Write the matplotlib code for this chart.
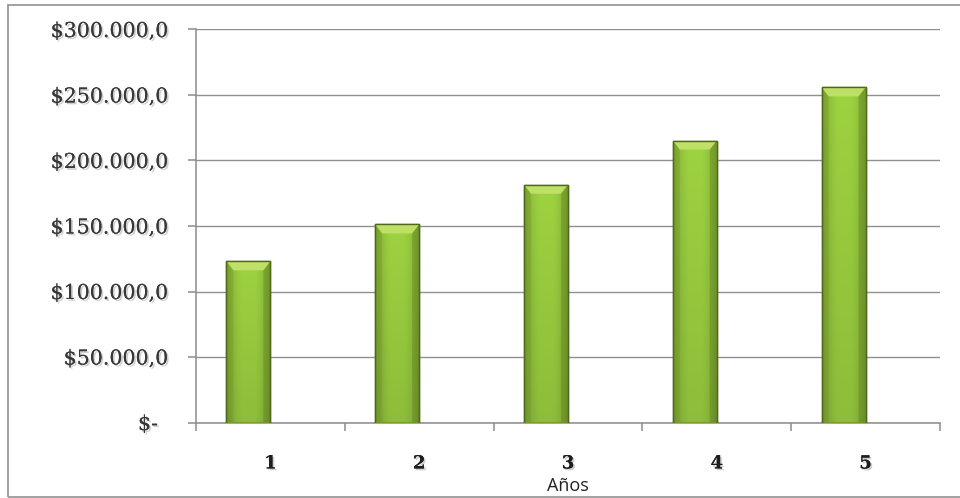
import numpy as np
import matplotlib
matplotlib.use("Agg")
import matplotlib.pyplot as plt
from matplotlib.patches import Rectangle, Polygon
import matplotlib.patheffects as pe

# Data
anios = [1, 2, 3, 4, 5]
valores = [123000, 151200, 181500, 215200, 255800]
y_ticks = [0, 50000, 100000, 150000, 200000, 250000, 300000]
x_label = "Años"


def fmt_money(v):
    if v == 0:
        return "$-\u2002"
    entero = f"{int(v):,}".replace(",", ".")
    return f"${entero},0"


W, H = 960, 498
fig = plt.figure(figsize=(W / 100, H / 100), dpi=100)
fig.patch.set_facecolor("white")

# Outer chart frame
frame = Rectangle((8 / W, 1 - 497 / H), 1.2, (497 - 5) / H, transform=fig.transFigure,
                  fill=False, edgecolor="#9a9a9a", linewidth=1.3, zorder=0)
fig.add_artist(frame)

ax = fig.add_axes([196 / W, 1 - 422.5 / H, 744 / W, (422.5 - 29.5) / H])
ax.set_facecolor("none")

ax.set_xlim(0.5, 5.5)
ax.set_ylim(0, 300000)

# Gridlines
ax.set_yticks(y_ticks)
ax.yaxis.grid(True, color="#909090", linewidth=1.0)
ax.set_axisbelow(True)

for s in ["top", "right"]:
    ax.spines[s].set_visible(False)
for s in ["left", "bottom"]:
    ax.spines[s].set_color("#8c8c8c")
    ax.spines[s].set_linewidth(1.1)

shadow = [pe.withSimplePatchShadow(offset=(1.3, -1.3), shadow_rgbFace="#a0a0a0", alpha=0.5),
          pe.Normal()]

ax.set_yticklabels([fmt_money(v) for v in y_ticks], family="DejaVu Serif",
                   fontsize=14.8, color="#383838")
for t in ax.get_yticklabels():
    t.set_path_effects(shadow)
ax.tick_params(axis="y", length=6, width=1.1, color="#8c8c8c", pad=14)

# Category labels centred, tick marks at category boundaries
ax.set_xticks(anios)
ax.set_xticklabels([str(a) for a in anios], family="DejaVu Serif",
                   fontweight="bold", fontsize=13, color="#1e1e1e")
for t in ax.get_xticklabels():
    t.set_path_effects(shadow)
ax.tick_params(axis="x", length=0, pad=23)
ax.set_xticks([a + 0.5 for a in [0] + anios], minor=True)
ax.tick_params(axis="x", which="minor", length=6, width=1.1, color="#8c8c8c")

ax.set_xlabel(x_label, family="Open Sans", fontsize=13, color="#222222", labelpad=3.5)

# Bars (clustered slot, left half of the category)
bw = 0.296
bars = ax.bar([a - bw / 2 for a in anios], valores, width=bw,
              color="#8db83a", edgecolor="#55701c", linewidth=1.0, zorder=3)

# Shaded fill for each bar: darker sides, lighter centre, bevelled top
fig.canvas.draw()
nx, ny = 60, 300
xs = np.linspace(0, 1, nx)
prof = 0.80 + 0.32 * np.sin(np.pi * np.clip(xs, 0, 1)) ** 0.6
prof = np.minimum(prof, 1.10)
base = np.array([0.56, 0.75, 0.23])
to_px = ax.transData
for b in bars:
    x0, w, h = b.get_x(), b.get_width(), b.get_height()
    (px0, py0), (px1, py1) = to_px.transform([(x0, 0), (x0 + w, h)])
    ys = np.linspace(1, 0, ny)  # top to bottom
    vert = 0.90 + 0.10 * ys
    img = np.clip(base[None, None, :] * prof[None, :, None] * vert[:, None, None], 0, 1)
    im = ax.imshow(img, extent=(x0, x0 + w, 0, h), aspect="auto", zorder=3.5,
                   interpolation="bilinear")
    im.set_clip_path(b)
    # bevelled top highlight
    bev_px = 9
    inv = to_px.inverted()
    bev_h = h - inv.transform((px0, py1 - bev_px))[1]
    bev_w = w * 0.16
    top = Polygon([(x0, h), (x0 + w, h), (x0 + w - bev_w, h - bev_h), (x0 + bev_w, h - bev_h)],
                  closed=True, facecolor="#bfe066", edgecolor="none", zorder=3.6)
    ax.add_patch(top)
    top.set_clip_path(b)
    side = Polygon([(x0, h), (x0 + bev_w, h - bev_h), (x0 + bev_w, 0), (x0, 0)],
                   closed=True, facecolor="#6f9126", edgecolor="none", alpha=0.3, zorder=3.6)
    ax.add_patch(side)
    side.set_clip_path(b)
    side2 = Polygon([(x0 + w, h), (x0 + w - bev_w, h - bev_h), (x0 + w - bev_w, 0), (x0 + w, 0)],
                    closed=True, facecolor="#5f7e1f", edgecolor="none", alpha=0.4, zorder=3.6)
    ax.add_patch(side2)
    side2.set_clip_path(b)
    outline = Rectangle((x0, 0), w, h, fill=False, edgecolor="#4f6819", linewidth=1.0, zorder=3.8)
    ax.add_patch(outline)

fig.savefig("out.png", dpi=100, facecolor="white")
